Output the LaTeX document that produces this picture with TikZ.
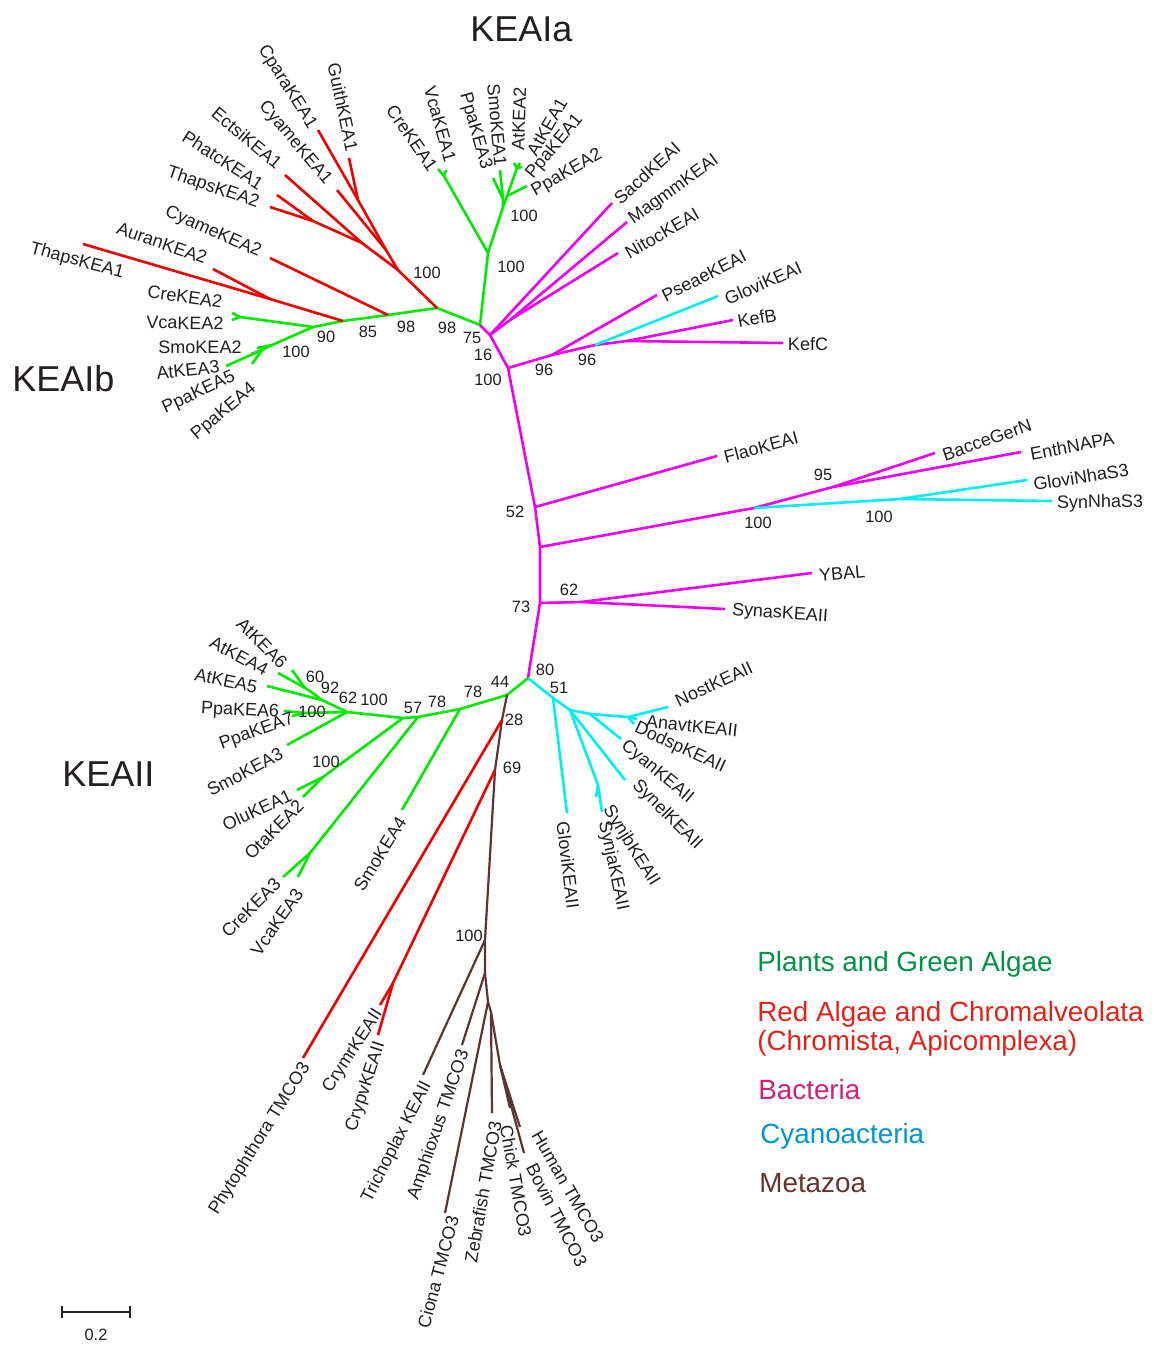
\documentclass[tikz,border=0pt]{standalone}
\usepackage{fontspec}
\setmainfont{Liberation Sans}
\definecolor{tgreen}{RGB}{0,235,0}
\definecolor{tred}{RGB}{240,0,0}
\definecolor{tmag}{RGB}{240,0,240}
\definecolor{tcyan}{RGB}{0,240,240}
\definecolor{tbrown}{RGB}{92,52,50}
\definecolor{ink}{RGB}{35,31,32}
\definecolor{kgreen}{RGB}{0,146,69}
\definecolor{kred}{RGB}{226,35,26}
\definecolor{kpink}{RGB}{214,31,120}
\definecolor{kblue}{RGB}{0,150,214}
\definecolor{kbrown}{RGB}{102,51,45}
\begin{document}
\begin{tikzpicture}[x=0.5pt,y=-0.5pt,
  br/.style={line width=1.3pt,line join=round},
  gr/.style={br,draw=tgreen},
  rd/.style={br,draw=tred},
  mg/.style={br,draw=tmag},
  cy/.style={br,draw=tcyan},
  bn/.style={line width=1.1pt,line join=round,draw=tbrown},
  leaf/.style={inner sep=0pt,text=ink,font=\fontsize{9}{10}\selectfont},
  boot/.style={inner sep=0pt,text=ink,font=\fontsize{8.2}{9}\selectfont},
  clade/.style={inner sep=0pt,anchor=base west,text=ink,font=\fontsize{18}{20}\selectfont},
  legend/.style={inner sep=0pt,anchor=base west,font=\fontsize{13.9}{16}\selectfont}]
\useasboundingbox (0,0) rectangle (1154,1345);
\fill[white] (0,0) rectangle (1154,1345);

% ---------- branching points and tips ----------
% KEAIb backbone and red clade
\coordinate (j75) at (480,325);
\coordinate (g98b) at (437,308);
\coordinate (g98a) at (388,315);
\coordinate (g85) at (343,321);
\coordinate (g90) at (313,327);
\coordinate (r100) at (398,270);
\coordinate (rCy) at (386,250);
\coordinate (rGu) at (358,200);
\coordinate (tCpara) at (318,130);
\coordinate (tGuith) at (349,158);
\coordinate (tCyame1) at (337,190);
\coordinate (rE) at (362,243);
\coordinate (tEctsi) at (285,175);
\coordinate (rPT) at (313,221);
\coordinate (tPhatc) at (277,195);
\coordinate (tThaps2) at (270,207);
\coordinate (tCyame2) at (270,258);
\coordinate (rA) at (270,299);
\coordinate (tThaps1) at (83,244);
\coordinate (tAuran) at (213,269);
% KEAIb green
\coordinate (gCV) at (240,317);
\coordinate (tCre2) at (232,313);
\coordinate (tVca2) at (232,320);
\coordinate (gS) at (272,345);
\coordinate (tSmo2) at (257,348);
\coordinate (gP) at (262,350);
\coordinate (tPpa5) at (251,354);
\coordinate (tPpa4) at (252,364);
\coordinate (tAt3) at (226,366);
% KEAIa
\coordinate (gA100) at (488,253);
\coordinate (gCV1) at (444,176);
\coordinate (tCre1) at (438,169);
\coordinate (tVca1) at (446,170);
\coordinate (gB100) at (503,207);
\coordinate (gL) at (503,199);
\coordinate (tPpa3) at (493,178);
\coordinate (tSmo1) at (500,170);
\coordinate (gR) at (507,196);
\coordinate (gRR) at (517,168);
\coordinate (tAt2) at (514,163);
\coordinate (tAt1) at (520,163);
\coordinate (tPpa1) at (522,167);
\coordinate (tPpa2) at (527,186);
% bacteria, upper part
\coordinate (m16) at (490,335);
\coordinate (tSacd) at (612,203);
\coordinate (mMN) at (510,320);
\coordinate (tMagmm) at (627,222);
\coordinate (tNitoc) at (618,253);
\coordinate (m100) at (508,368);
\coordinate (m96a) at (552,355);
\coordinate (tPseae) at (657,295);
\coordinate (m96b) at (595,345);
\coordinate (tGlovi1) at (718,296);
\coordinate (mK) at (627,341);
\coordinate (tKefB) at (733,320);
\coordinate (tKefC) at (783,343);
% trunk
\coordinate (t52) at (535,507);
\coordinate (tFlao) at (717,456);
\coordinate (tA) at (540,547);
\coordinate (n100) at (754,508);
\coordinate (n95) at (833,487);
\coordinate (tBacce) at (935,453);
\coordinate (tEnth) at (1021,452);
\coordinate (nc100) at (900,499);
\coordinate (tGloviN) at (1027,480);
\coordinate (tSynN) at (1052,501);
\coordinate (t73) at (540,603);
\coordinate (n62) at (581,602);
\coordinate (tYBAL) at (812,573);
\coordinate (tSynas) at (725,609);
\coordinate (t80) at (528,678);
% cyanobacteria, lower part
\coordinate (c51) at (553,698);
\coordinate (tGlovi2) at (567,813);
\coordinate (c1) at (570,710);
\coordinate (c2) at (590,714);
\coordinate (tCyan) at (621,739);
\coordinate (c3) at (628,717);
\coordinate (tNost) at (668,707);
\coordinate (tAnavt) at (637,719);
\coordinate (tDodsp) at (634,724);
\coordinate (tSynel) at (625,780);
\coordinate (cJ) at (598,785);
\coordinate (tSynjb) at (602,812);
\coordinate (tSynja) at (596,797);
% KEAII green
\coordinate (g44) at (507,695);
\coordinate (g78a) at (460,709);
\coordinate (tSmo4) at (402,810);
\coordinate (g78b) at (418,717);
\coordinate (gCrV) at (310,853);
\coordinate (tCre3) at (283,877);
\coordinate (tVca3) at (298,877);
\coordinate (g57) at (403,718);
\coordinate (gOO) at (323,777);
\coordinate (tOlu) at (297,790);
\coordinate (tOta) at (303,797);
\coordinate (g100) at (347,712);
\coordinate (tSmo3) at (287,745);
\coordinate (gPP) at (305,713);
\coordinate (tPpa6) at (284,711);
\coordinate (tPpa7) at (292,716);
\coordinate (g62) at (322,700);
\coordinate (tAt5) at (267,686);
\coordinate (g92) at (314,694);
\coordinate (g60) at (305,688);
\coordinate (tAt4) at (278,673);
\coordinate (tAt6) at (292,670);
% metazoa and chromalveolata
\coordinate (br1) at (502,720);
\coordinate (tPhyto) at (303,1058);
\coordinate (br2) at (495,770);
\coordinate (rC) at (393,983);
\coordinate (tCrymr) at (380,1005);
\coordinate (tCrypv) at (378,1035);
\coordinate (b100) at (485,940);
\coordinate (tTrich) at (423,1075);
\coordinate (b2) at (485,973);
\coordinate (tAmph) at (462,1045);
\coordinate (b3) at (488,1002);
\coordinate (tCiona) at (445,1213);
\coordinate (b4) at (491,1012);
\coordinate (tZebra) at (492,1113);
\coordinate (b5) at (500,1065);
\coordinate (tChick) at (510,1108);
\coordinate (tHuman) at (520,1127);
\coordinate (tBovin) at (524,1153);

% ---------- branches ----------
% KEAIb
\draw[gr] (j75) -- (g98b) -- (g98a) -- (g85) -- (g90);
\draw[rd] (g98b) -- (r100) -- (rCy) -- (rGu) -- (tCpara);
\draw[rd] (rGu) -- (tGuith);
\draw[rd] (rCy) -- (tCyame1);
\draw[rd] (r100) -- (rE) -- (tEctsi);
\draw[rd] (rE) -- (rPT) -- (tPhatc);
\draw[rd] (rPT) -- (tThaps2);
\draw[rd] (g98a) -- (tCyame2);
\draw[rd] (g85) -- (rA) -- (tThaps1);
\draw[rd] (rA) -- (tAuran);
\draw[gr] (g90) -- (gCV) -- (tCre2);
\draw[gr] (gCV) -- (tVca2);
\draw[gr] (g90) -- (gS) -- (gP) -- (tAt3);
\draw[gr] (gS) -- (tSmo2);
\draw[gr] (gP) -- (tPpa5);
\draw[gr] (gP) -- (tPpa4);
% KEAIa
\draw[gr] (j75) -- (gA100) -- (gCV1) -- (tCre1);
\draw[gr] (gCV1) -- (tVca1);
\draw[gr] (gA100) -- (gB100) -- (gL) -- (tPpa3);
\draw[gr] (gL) -- (tSmo1);
\draw[gr] (gB100) -- (gR) -- (gRR) -- (tAt2);
\draw[gr] (gRR) -- (tAt1);
\draw[gr] (gRR) -- (tPpa1);
\draw[gr] (gR) -- (tPpa2);
% bacteria, upper part
\draw[mg] (j75) -- (m16) -- (m100) -- (t52) -- (tA) -- (t73) -- (t80);
\draw[mg] (m16) -- (tSacd);
\draw[mg] (m16) -- (mMN) -- (tMagmm);
\draw[mg] (mMN) -- (tNitoc);
\draw[mg] (m100) -- (m96a) -- (tPseae);
\draw[mg] (m96a) -- (m96b) -- (mK) -- (tKefC);
\draw[mg] (mK) -- (tKefB);
\draw[cy] (m96b) -- (tGlovi1);
% trunk side branches
\draw[mg] (t52) -- (tFlao);
\draw[mg] (tA) -- (n100) -- (n95) -- (tBacce);
\draw[mg] (n95) -- (tEnth);
\draw[cy] (n100) -- (nc100) -- (tSynN);
\draw[cy] (nc100) -- (tGloviN);
\draw[mg] (t73) -- (n62) -- (tYBAL);
\draw[mg] (n62) -- (tSynas);
% cyanobacteria
\draw[cy] (t80) -- (c51) -- (tGlovi2);
\draw[cy] (c51) -- (c1) -- (c2) -- (c3) -- (tNost);
\draw[cy] (c3) -- (tAnavt);
\draw[cy] (c3) -- (tDodsp);
\draw[cy] (c2) -- (tCyan);
\draw[cy] (c1) -- (tSynel);
\draw[cy] (c1) -- (cJ) -- (tSynjb);
\draw[cy] (cJ) -- (tSynja);
% KEAII green
\draw[gr] (t80) -- (g44) -- (g78a) -- (g78b) -- (g57) -- (g100) -- (g62) -- (g92) -- (g60) -- (tAt4);
\draw[gr] (g60) -- (tAt6);
\draw[gr] (g62) -- (tAt5);
\draw[gr] (g78a) -- (tSmo4);
\draw[gr] (g78b) -- (gCrV) -- (tCre3);
\draw[gr] (gCrV) -- (tVca3);
\draw[gr] (g57) -- (gOO) -- (tOlu);
\draw[gr] (gOO) -- (tOta);
\draw[gr] (g100) -- (tSmo3);
\draw[gr] (g100) -- (gPP) -- (tPpa6);
\draw[gr] (gPP) -- (tPpa7);
% metazoa and chromalveolata
\draw[bn] (g44) -- (br1) -- (br2) -- (b100) -- (b2) -- (b3) -- (b4) -- (b5) -- (tBovin);
\draw[rd] (br1) -- (tPhyto);
\draw[rd] (br2) -- (rC) -- (tCrymr);
\draw[rd] (rC) -- (tCrypv);
\draw[bn] (b100) -- (tTrich);
\draw[bn] (b2) -- (tAmph);
\draw[bn] (b3) -- (tCiona);
\draw[bn] (b4) -- (tZebra);
\draw[bn] (b5) -- (tChick);
\draw[bn] (b5) -- (tHuman);

% ---------- leaf labels: text / x / y / angle ----------
\foreach \t/\x/\y/\a [count=\i] in {
  CparaKEA1/287/87/-58, GuithKEA1/343/107/-78, CyameKEA1/295/143/-50,
  EctsiKEA1/247/138/-40, PhatcKEA1/223/160/-33, ThapsKEA2/213/188/-19,
  CyameKEA2/213/232/-24, AuranKEA2/162/243/-19, ThapsKEA1/77/261/-15,
  CreKEA2/185/297/-8, VcaKEA2/185/323/-1, SmoKEA2/200/347/0,
  AtKEA3/188/370/6, PpaKEA5/199/393/25, PpaKEA4/224/412/40,
  CreKEA1/412/138/-55, VcaKEA1/440/124/-74, PpaKEA3/475/131/-74,
  SmoKEA1/497/125/-85, AtKEA2/519/119/88, AtKEA1/547/127/60,
  PpaKEA1/555/147/50, PpaKEA2/567/173/30,
  SacdKEAI/647/173/42, MagmmKEAI/674/190/36, NitocKEAI/662/233/30,
  PseaeKEAI/704/276/27, GloviKEAI/763/283/24, KefB/757/318/10,
  KefC/808/344/0, FlaoKEAI/761/447/15, BacceGerN/987/440/19,
  EnthNAPA/1072/446/11, GloviNhaS3/1081/477/9, SynNhaS3/1100/503/1,
  YBAL/842/573/5, SynasKEAII/780/614/-4,
  AtKEA6/262/643/-45, AtKEA4/239/656/-28, AtKEA5/226/681/-12,
  PpaKEA6/240/711/-3, PpaKEA7/257/732/20, SmoKEA3/245/772/28,
  OluKEA1/257/810/25, OtaKEA2/274/830/45, CreKEA3/251/908/45,
  VcaKEA3/277/922/55, SmoKEA4/380/854/58,
  NostKEAII/714/684/25, AnavtKEAII/692/726/-6, DodspKEAII/680/748/-25,
  CyanKEAII/657/772/-40, SynelKEAII/667/815/-45, SynjbKEAII/631/846/-58,
  SynjaKEAII/613/866/-78, GloviKEAII/568/865/-83,
  Phytophthora TMCO3/260/1139/58, CrymrKEAII/353/1051/57,
  CrypvKEAII/366/1087/72, Trichoplax KEAII/397/1142/63,
  Amphioxus TMCO3/439/1125/71, Ciona TMCO3/438/1272/75,
  Zebrafish TMCO3/483/1192/80, Chick TMCO3/516/1181/-80,
  Human TMCO3/568/1187/-60, Bovin TMCO3/557/1215/-63}
  \node[leaf,rotate=\a] (leaf\i) at (\x,\y) {\t};

% ---------- bootstrap values ----------
\foreach \v/\x/\y [count=\i] in {
  100/427/273, 98/406/327, 98/447/328, 85/368/332, 90/326/337, 100/296/352,
  75/472/338, 16/483/355, 100/488/380, 100/511/267, 100/524/216,
  96/544/370, 96/587/360, 52/515/512, 95/823/475, 100/758/523, 100/879/517,
  73/521/607, 62/569/590, 80/545/670, 51/559/688, 44/500/682,
  78/473/692, 78/437/702, 57/413/708, 100/374/700, 62/348/698, 92/330/688,
  60/315/677, 100/312/712, 100/326/762, 28/514/720, 69/512/768, 100/469/936}
  \node[boot] (bs\i) at (\x,\y) {\v};

% ---------- clade names ----------
\node[clade] (cladeIa) at (470,41) {KEAIa};
\node[clade] (cladeIb) at (12,391) {KEAIb};
\node[clade] (cladeII) at (62,786) {KEAII};

% ---------- legend ----------
\node[legend,text=kgreen] (key1) at (757,971) {Plants and Green Algae};
\node[legend,text=kred] (key2) at (757,1021) {Red Algae and Chromalveolata};
\node[legend,text=kred] (key2b) at (757,1050) {(Chromista, Apicomplexa)};
\node[legend,text=kpink] (key3) at (758,1099) {Bacteria};
\node[legend,text=kblue] (key4) at (760,1143) {Cyanoacteria};
\node[legend,text=kbrown] (key5) at (759,1192) {Metazoa};

% ---------- scale bar ----------
\coordinate (sbL) at (62,1312);
\coordinate (sbR) at (130,1312);
\draw[ink,line width=1pt] (sbL) -- (sbR);
\draw[ink,line width=1pt] ([yshift=3pt]sbL) -- ([yshift=-3pt]sbL);
\draw[ink,line width=1pt] ([yshift=3pt]sbR) -- ([yshift=-3pt]sbR);
\node[boot] (sblabel) at (96,1335) {0.2};
\end{tikzpicture}
\end{document}
